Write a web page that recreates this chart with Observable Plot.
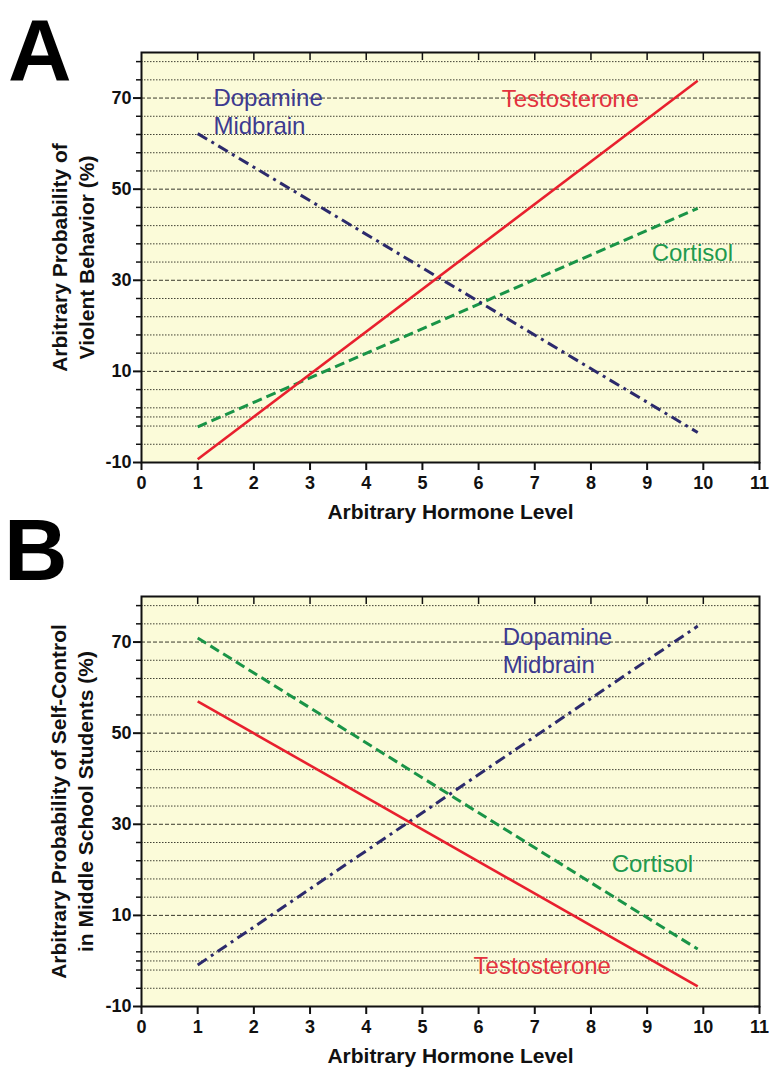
<!DOCTYPE html>
<html><head><meta charset="utf-8">
<script src="https://cdn.jsdelivr.net/npm/d3@7"></script>
<script src="https://cdn.jsdelivr.net/npm/@observablehq/plot@0.6"></script>
<style>
body{margin:0;background:#fff;font-family:Arial,"Liberation Sans",sans-serif}
#wrap{position:relative;width:775px;height:1069px;overflow:hidden;background:#fff}
.panel-letter{position:absolute;font:bold 88px Arial,"Liberation Sans",sans-serif;line-height:0.8;color:#000}
</style></head><body>
<div id="wrap">
<div class="panel-letter" style="left:8px;top:15px">A</div>
<div class="panel-letter" style="left:4px;top:515px">B</div>
</div>
<script>
// ---- data ----
const hormoneLevel = [1, 9.9];

// Panel A: arbitrary probability of violent behavior (%)
const violentTestosterone = [-9.3, 73.8];
const violentCortisol = [-2.2, 45.8];
const violentDopamine = [62.2, -3.4];

// Panel B: arbitrary probability of self-control (%)
const controlTestosterone = [57, -5.6];
const controlCortisol = [70.9, 2.6];
const controlDopamine = [-0.9, 73.5];

const seriesNames = ["Testosterone", "Cortisol", "Dopamine\nMidbrain"];

// tick values
const xTicks = [0, 1, 2, 3, 4, 5, 6, 7, 8, 9, 10, 11];
const xTopTicks = [1, 2, 3, 4, 5, 6, 7, 8, 9, 10];
const yMajorTicks = [-10, 10, 30, 50, 70];
const yMinorTicks = [-6, -2, 0, 2, 6, 14, 18, 22, 26, 34, 38, 42, 46, 54, 58, 62, 66, 74, 78];

// label anchors (data coordinates)
const labelsA = [
  {name: "Dopamine\nMidbrain", x: 1.28, y: 67.1},
  {name: "Testosterone", x: 6.41, y: 70.1},
  {name: "Cortisol", x: 9.08, y: 36.1}
];
const labelsB = [
  {name: "Dopamine\nMidbrain", x: 6.43, y: 68.2},
  {name: "Cortisol", x: 8.37, y: 21.5},
  {name: "Testosterone", x: 5.91, y: -0.85}
];

// ---- styles ----
const lineColor = {"Testosterone": "#e8202e", "Cortisol": "#1a9447", "Dopamine\nMidbrain": "#2c2a6c"};
const textColor = {"Testosterone": "#e3333e", "Cortisol": "#1f9a4f", "Dopamine\nMidbrain": "#3d3a90"};
const lineDash = {"Testosterone": null, "Cortisol": "10,5", "Dopamine\nMidbrain": "11,5,3,5"};

function rows(name, values) {
  return hormoneLevel.map((h, i) => ({x: h, y: values[i], series: name}));
}

function panel({height, marginTop, marginBottom, series, labels, yLabel, yLabelDx}) {
  const lineMarks = series.map(([name, values]) =>
    Plot.line(rows(name, values), {
      x: "x", y: "y",
      stroke: lineColor[name],
      strokeWidth: name === "Testosterone" ? 2.6 : 3,
      strokeDasharray: lineDash[name],
      strokeLinecap: "butt"
    })
  );
  return Plot.plot({
    width: 775,
    height,
    marginLeft: 141,
    marginRight: 16,
    marginTop,
    marginBottom,
    style: {fontFamily: "Arial, 'Liberation Sans', sans-serif", background: "#fff", color: "#111"},
    x: {domain: [0, 11]},
    y: {domain: [-10, 80]},
    marks: [
      Plot.frame({fill: "#fbfbd9", stroke: null}),
      Plot.ruleY(yMinorTicks, {stroke: "#2e2e22", strokeOpacity: 0.9, strokeWidth: 1, strokeDasharray: "1.5,1.5"}),
      Plot.ruleY(yMajorTicks, {stroke: "#222218", strokeOpacity: 0.9, strokeWidth: 1, strokeDasharray: "4,2"}),
      ...lineMarks,
      Plot.text(labels, {
        x: "x", y: "y", text: "name",
        fill: d => textColor[d.name],
        textAnchor: "start", lineAnchor: "middle",
        fontSize: 24, lineHeight: 1.17
      }),
      Plot.frame({stroke: "#111", strokeWidth: 2}),
      Plot.axisY({ticks: yMajorTicks, tickSize: 8, tickPadding: 2, tickFormat: d => String(d), fontSize: 18, fontWeight: "bold", strokeWidth: 2, label: null}),
      Plot.axisY({ticks: yMinorTicks, tickSize: 5, tickFormat: () => "", strokeWidth: 1.5, label: null}),
      Plot.axisY({anchor: "right", ticks: yMinorTicks.concat(yMajorTicks), tickSize: 6, dx: -6, tickFormat: () => "", strokeWidth: 1.5, label: null}),
      Plot.axisX({ticks: xTicks, tickSize: 8, tickPadding: 6, tickFormat: d => String(d), fontSize: 18, fontWeight: "bold", strokeWidth: 2, label: null}),
      Plot.axisX({anchor: "top", ticks: xTopTicks, tickSize: 7, dy: 7, tickFormat: () => "", strokeWidth: 1.5, label: null}),
      Plot.text(["Arbitrary Hormone Level"], {
        text: d => d, frameAnchor: "bottom", dy: 50, lineAnchor: "middle",
        fontSize: 21, fontWeight: "bold", fill: "#111"
      }),
      Plot.text([yLabel], {
        text: d => d, frameAnchor: "left", dx: yLabelDx, rotate: -90, lineAnchor: "middle",
        textAnchor: "middle", fontSize: 21, fontWeight: "bold", lineHeight: 1.3, fill: "#111"
      })
    ]
  });
}

const wrap = document.getElementById("wrap");
const chartA = panel({
  height: 530, marginTop: 52, marginBottom: 68,
  series: [["Cortisol", violentCortisol], ["Dopamine\nMidbrain", violentDopamine], ["Testosterone", violentTestosterone]],
  labels: labelsA,
  yLabel: "Arbitrary Probability of\nViolent Behavior (%)",
  yLabelDx: -70
});
const chartB = panel({
  height: 539, marginTop: 66, marginBottom: 63,
  series: [["Cortisol", controlCortisol], ["Dopamine\nMidbrain", controlDopamine], ["Testosterone", controlTestosterone]],
  labels: labelsB,
  yLabel: "Arbitrary Probability of Self-Control\nin Middle School Students (%)",
  yLabelDx: -71
});
wrap.insertBefore(chartB, wrap.firstChild);
wrap.insertBefore(chartA, wrap.firstChild);
</script>
</body></html>
